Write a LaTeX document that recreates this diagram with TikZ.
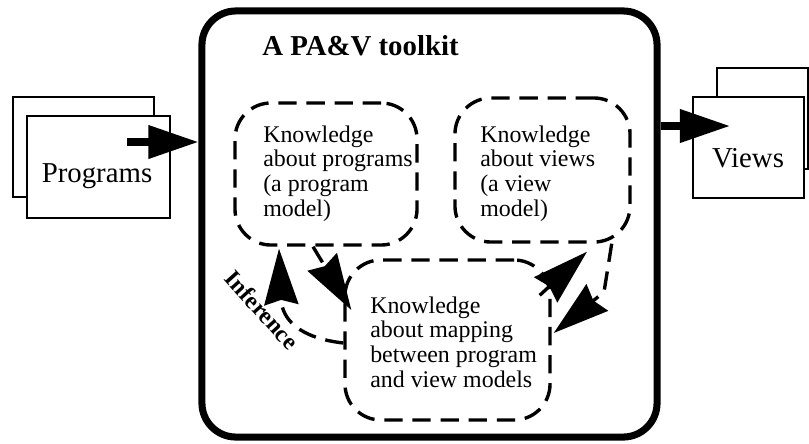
\documentclass[tikz,border=0pt]{standalone}
\usepackage{fontspec}
\setmainfont{Liberation Serif}
\usetikzlibrary{arrows.meta,positioning}
\newcommand{\boxfont}{\fontsize{17}{17.5}\selectfont}
\newcommand{\docfont}{\fontsize{20.5}{22}\selectfont}

\begin{document}
\begin{tikzpicture}[x=0.025cm,y=-0.025cm,
    toolkit/.style={draw,line width=5pt,rounded corners=0.85cm,minimum width=11.375cm,minimum height=10.65cm},
    doc/.style={draw,fill=white,line width=1.6pt},
    know/.style={draw,line width=2.4pt,dash pattern=on 13pt off 7pt,rounded corners=0.9cm},
    knowtext/.style={anchor=north west,inner sep=0pt,align=left,font=\boxfont},
    flow/.style={line width=5pt,-{Triangle[length=1.25cm,width=0.8cm]}},
    link/.style={line width=2.4pt,dash pattern=on 13pt off 7pt,-{Stealth[length=1.4cm,width=0.85cm,inset=0.12cm]}}]
    \useasboundingbox (0,0) rectangle (809,443);

    % the toolkit
    \node[toolkit] (toolkit) at (429.5,224) {};
    \node[anchor=base west,inner sep=0pt,font=\docfont\bfseries] (title) at (262,55) {A PA\&V toolkit};

    % input and output documents
    \node[doc,minimum width=3.525cm,minimum height=2.5cm] (prog_back) at (83.5,147) {};
    \node[doc,minimum width=3.575cm,minimum height=2.55cm] (prog_front) at (98.5,167) {};
    \node[font=\docfont,inner sep=0pt] (prog_text) at (97,176.5) {Programs};

    \node[doc,minimum width=2.275cm,minimum height=2.525cm] (views_back) at (762.5,118.5) {};
    \node[doc,minimum width=2.775cm,minimum height=2.525cm] (views_front) at (748.5,147.5) {};
    \node[font=\docfont,inner sep=0pt] (views_text) at (748,158) {Views};

    % knowledge
    \node[know,minimum width=4.55cm,minimum height=3.55cm] (prog_model) at (326,174) {};
    \node[knowtext] (prog_model_text) at (263,125.5) {Knowledge\\about programs\\(a program\\model)};

    \node[know,minimum width=4.375cm,minimum height=3.6cm] (view_model) at (542.5,170) {};
    \node[knowtext] (view_model_text) at (480,125.5) {Knowledge\\about views\\(a view\\model)};

    \node[know,minimum width=5.125cm,minimum height=4cm] (map_model) at (447.5,340) {};
    \node[knowtext] (map_model_text) at (370,296.5) {Knowledge\\about mapping\\between program\\and view models};

    \node[font=\boxfont\bfseries,rotate=-48,inner sep=0pt] (inference) at (262,310) {Inference};

    % connectors
    \coordinate (prog_out) at (127,142);
    \coordinate (views_in) at (730,126);
    \draw[flow] (prog_out) -- (prog_out -| toolkit.west);
    \draw[flow] (toolkit.east |- views_in) -- (views_in);

    \draw[link] ([shift={(-13,0)}]prog_model.south) -- ([shift={(8,-30)}]map_model.west);
    \draw[link] ([shift={(-12,37)}]map_model.north east) -- ([shift={(44.5,8)}]view_model.south);
    \draw[link] ([shift={(-20,0)}]view_model.south east) -- (604,292) -- ([shift={(2,-7)}]map_model.east);
    \draw[link] ([shift={(0,3)}]map_model.west) .. controls (300,338) and (282,320) .. ([shift={(-47,2)}]prog_model.south);
\end{tikzpicture}
\end{document}
